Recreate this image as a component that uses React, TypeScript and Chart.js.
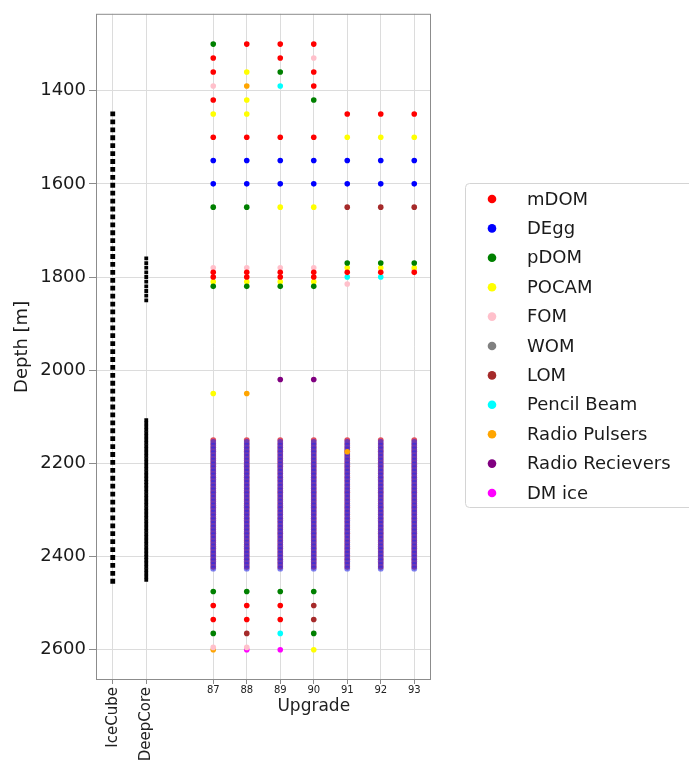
import { useEffect, useRef } from 'react';
import { Chart, registerables } from 'chart.js';

Chart.register(...registerables);

// ---------------- data ----------------
const xLabels = ['IceCube', 'DeepCore', '', '87', '88', '89', '90', '91', '92', '93'];
const upgradeStrings = ['87', '88', '89', '90', '91', '92', '93'];
const yTicks = [1400, 1600, 1800, 2000, 2200, 2400, 2600];

const iceCubeDepths = [
  1450, 1467, 1484, 1501, 1518, 1535, 1552, 1569, 1586, 1603, 1620, 1637, 1654, 1671, 1688,
  1705, 1722, 1739, 1756, 1773, 1790, 1807, 1824, 1841, 1858, 1875, 1892, 1909, 1926, 1943,
  1960, 1977, 1994, 2011, 2028, 2045, 2062, 2079, 2096, 2113, 2130, 2147, 2164, 2181, 2198,
  2215, 2232, 2249, 2266, 2283, 2300, 2317, 2334, 2351, 2368, 2385, 2402, 2419, 2436, 2453,
];
const deepCoreDepths = [
  1760, 1770, 1780, 1790, 1800, 1810, 1820, 1830, 1840, 1850,
  2107, 2114, 2121, 2128, 2135, 2142, 2149, 2156, 2163, 2170, 2177, 2184, 2191, 2198, 2205,
  2212, 2219, 2226, 2233, 2240, 2247, 2254, 2261, 2268, 2275, 2282, 2289, 2296, 2303, 2310,
  2317, 2324, 2331, 2338, 2345, 2352, 2359, 2366, 2373, 2380, 2387, 2394, 2401, 2408, 2415,
  2422, 2429, 2436, 2443, 2450,
];
const physicsMDOMDepths = [
  2150, 2158, 2166, 2174, 2182, 2190, 2198, 2206, 2214, 2222, 2230, 2238, 2246, 2254, 2262,
  2270, 2278, 2286, 2294, 2302, 2310, 2318, 2326, 2334, 2342, 2350, 2358, 2366, 2374, 2382,
  2390, 2398, 2406, 2414, 2422,
];
const physicsDEggDepths = [
  2154, 2162, 2170, 2178, 2186, 2194, 2202, 2210, 2218, 2226, 2234, 2242, 2250, 2258, 2266,
  2274, 2282, 2290, 2298, 2306, 2314, 2322, 2330, 2338, 2346, 2354, 2362, 2370, 2378, 2386,
  2394, 2402, 2410, 2418, 2426,
];

type P = [string, number];
const mDOM: P[] = [
  ['87', 1330], ['87', 1360], ['87', 1420], ['87', 1500],
  ['88', 1300], ['88', 1500],
  ['89', 1300], ['89', 1330], ['89', 1500],
  ['90', 1300], ['90', 1360], ['90', 1390], ['90', 1500],
  ['91', 1450], ['92', 1450], ['93', 1450],
  ['87', 1790], ['87', 1800], ['88', 1790], ['88', 1800], ['89', 1790], ['89', 1800], ['90', 1790], ['90', 1800],
  ['91', 1790], ['92', 1790], ['93', 1790],
  ['87', 2505], ['87', 2535], ['88', 2505], ['88', 2535], ['89', 2505], ['89', 2535],
];
const dEgg: P[] = [
  ['87', 1550], ['88', 1550], ['89', 1550], ['90', 1550], ['91', 1550], ['92', 1550], ['93', 1550],
  ['87', 1600], ['88', 1600], ['89', 1600], ['90', 1600], ['91', 1600], ['92', 1600], ['93', 1600],
];
const pDOM: P[] = [
  ['87', 1300], ['89', 1360], ['90', 1420], ['87', 1650], ['88', 1650],
  ['87', 1820], ['88', 1820], ['89', 1820], ['90', 1820], ['91', 1770], ['92', 1770], ['93', 1770],
  ['87', 2475], ['88', 2475], ['89', 2475], ['90', 2475], ['87', 2565], ['90', 2565],
];
const pocam: P[] = [
  ['87', 1450], ['88', 1360], ['88', 1420], ['88', 1450], ['89', 1650], ['90', 1650],
  ['91', 1500], ['92', 1500], ['93', 1500],
  ['87', 1810], ['88', 1810], ['89', 1810], ['90', 1810], ['91', 1780], ['92', 1780], ['93', 1780],
  ['87', 2050], ['90', 2600],
];
const fom: P[] = [
  ['87', 1390], ['90', 1330],
  ['87', 1780], ['88', 1780], ['89', 1780], ['90', 1780], ['91', 1815], ['93', 1785],
  ['87', 2595], ['88', 2595],
];
const wom: P[] = [];
const lom: P[] = [['91', 1650], ['92', 1650], ['93', 1650], ['90', 2505], ['90', 2535], ['88', 2565]];
const pencilBeam: P[] = [['89', 1390], ['91', 1800], ['92', 1800], ['89', 2565]];
const radioPulsers: P[] = [['88', 1390], ['88', 2050], ['87', 2600], ['91', 2175]];
const radioReceivers: P[] = [['89', 2020], ['90', 2020]];
const dmIce: P[] = [['88', 2600], ['89', 2600]];

const instrumentNames = ['mDOM', 'DEgg', 'pDOM', 'POCAM', 'FOM', 'WOM', 'LOM', 'Pencil Beam', 'Radio Pulsers', 'Radio Recievers', 'DM ice'];
const instrumentSeries = [mDOM, dEgg, pDOM, pocam, fom, wom, lom, pencilBeam, radioPulsers, radioReceivers, dmIce];

// ---------------- styles ----------------
const instrumentColors = ['#ff0000', '#0000ff', '#008000', '#ffff00', '#ffc0cb', '#808080', '#a52a2a', '#00ffff', '#ffa500', '#800080', '#ff00ff'];
const FONT = '"DejaVu Sans", sans-serif';

const toPoints = (list: P[]) => list.map(([s, d]) => ({ x: s, y: d }));

const overlayPlugin = {
  id: 'overlay',
  afterDraw(chart: any) {
    const { ctx, chartArea, scales } = chart;
    const xs = scales.x;
    ctx.save();
    // frame
    ctx.strokeStyle = '#8c8c8c';
    ctx.lineWidth = 1;
    ctx.strokeRect(chartArea.left + 0.5, chartArea.top + 0.5, chartArea.right - chartArea.left - 1, chartArea.bottom - chartArea.top - 1);

    // x tick labels
    ctx.fillStyle = '#222';
    xs.ticks.forEach((t: any, i: number) => {
      const label = xLabels[t.value];
      if (!label) return;
      const px = xs.getPixelForTick(i);
      if (isNaN(Number(label))) {
        ctx.save();
        ctx.translate(px, chartArea.bottom + 7);
        ctx.rotate(-Math.PI / 2);
        ctx.font = `15px ${FONT}`;
        ctx.textAlign = 'right';
        ctx.textBaseline = 'middle';
        ctx.fillText(label, 0, 0);
        ctx.restore();
      } else {
        ctx.font = `10px ${FONT}`;
        ctx.textAlign = 'center';
        ctx.textBaseline = 'top';
        ctx.fillText(label, px, chartArea.bottom + 5);
      }
    });
    // "Upgrade" title
    const first = xs.getPixelForValue(xLabels.indexOf(upgradeStrings[0]));
    const last = xs.getPixelForValue(xLabels.indexOf(upgradeStrings[upgradeStrings.length - 1]));
    ctx.font = `17px ${FONT}`;
    ctx.textAlign = 'center';
    ctx.textBaseline = 'middle';
    ctx.fillText('Upgrade', (first + last) / 2, chartArea.bottom + 27);

    // legend
    const lx = 465, ly = 183, lw = 260, lh = 324;
    ctx.beginPath();
    ctx.roundRect(lx + 0.5, ly + 0.5, lw, lh, 4);
    ctx.fillStyle = 'rgba(255,255,255,0.9)';
    ctx.fill();
    ctx.strokeStyle = '#d4d4d4';
    ctx.stroke();
    instrumentNames.forEach((name, i) => {
      const y = 199 + i * 29.4;
      ctx.beginPath();
      ctx.arc(492, y, 4.3, 0, Math.PI * 2);
      ctx.fillStyle = instrumentColors[i];
      ctx.fill();
      ctx.fillStyle = '#1a1a1a';
      ctx.font = `18px ${FONT}`;
      ctx.textAlign = 'left';
      ctx.textBaseline = 'middle';
      ctx.fillText(name, 527, y + 1);
    });
    ctx.restore();
  },
};

export default function App() {
  const ref = useRef<HTMLCanvasElement>(null);
  useEffect(() => {
    if (!ref.current) return;
    const datasets: any[] = [];
    instrumentNames.forEach((name, i) => {
      datasets.push({
        label: name,
        data: toPoints(instrumentSeries[i]),
        backgroundColor: instrumentColors[i],
        borderWidth: 0,
        pointRadius: 2.8,
        order: 1,
      });
    });
    // densely packed mDOM / DEgg physics region (overlapping red + translucent blue reads as violet)
    datasets.push({
      label: 'DEgg physics',
      data: upgradeStrings.flatMap((s) => physicsDEggDepths.map((d) => ({ x: s, y: d }))),
      backgroundColor: 'rgba(40,40,230,0.6)',
      borderWidth: 0,
      pointRadius: 2.9,
      order: 2,
    });
    datasets.push({
      label: 'mDOM physics',
      data: upgradeStrings.flatMap((s) => physicsMDOMDepths.map((d) => ({ x: s, y: d }))),
      backgroundColor: '#e05060',
      borderWidth: 0,
      pointRadius: 2.9,
      order: 3,
    });
    datasets.push({
      label: 'IceCube',
      data: iceCubeDepths.map((d) => ({ x: 'IceCube', y: d })),
      backgroundColor: '#000',
      borderWidth: 0,
      pointStyle: 'rect',
      pointRadius: 3.4,
      order: 4,
    });
    datasets.push({
      label: 'DeepCore',
      data: deepCoreDepths.map((d) => ({ x: 'DeepCore', y: d })),
      backgroundColor: '#000',
      borderWidth: 0,
      pointStyle: 'rect',
      pointRadius: 2.7,
      order: 4,
    });

    const hideBlank = (c: any) => (xLabels[c.tick?.value] === '' ? 'rgba(0,0,0,0)' : '#dcdcdc');
    const chart = new Chart(ref.current, {
      type: 'scatter',
      data: { labels: xLabels, datasets },
      options: {
        animation: false,
        responsive: true,
        maintainAspectRatio: false,
        events: [],
        layout: { padding: { top: 10, right: 258, left: 0, bottom: 0 } },
        plugins: { legend: { display: false }, tooltip: { enabled: false } },
        scales: {
          x: {
            type: 'category',
            labels: xLabels,
            offset: true,
            ticks: { display: false, autoSkip: false },
            grid: {
              color: hideBlank,
              tickColor: (c: any) => (xLabels[c.tick?.value] === '' ? 'rgba(0,0,0,0)' : '#8c8c8c'),
              tickLength: 4,
              lineWidth: 1,
            },
            border: { display: false },
            afterFit: (s: any) => { s.height = 81; },
          },
          y: {
            type: 'linear',
            reverse: true,
            min: 1235,
            max: 2665,
            afterBuildTicks: (s: any) => { s.ticks = yTicks.map((v) => ({ value: v })); },
            ticks: { font: { family: FONT, size: 18 }, color: '#1a1a1a', padding: 3, callback: (v: any) => String(v) },
            grid: { color: '#dcdcdc', tickColor: '#8c8c8c', tickLength: 7, lineWidth: 1 },
            border: { display: false },
            title: { display: true, text: 'Depth [m]', font: { family: FONT, size: 18 }, color: '#1a1a1a', padding: { top: 12, bottom: 0 } },
            afterFit: (s: any) => { s.width = 96; },
          },
        },
      } as any,
      plugins: [overlayPlugin],
    });
    return () => chart.destroy();
  }, []);

  return (
    <div style={{ position: 'absolute', left: 0, top: 0, width: 689, height: 761, background: '#fff' }}>
      <canvas ref={ref} />
    </div>
  );
}
